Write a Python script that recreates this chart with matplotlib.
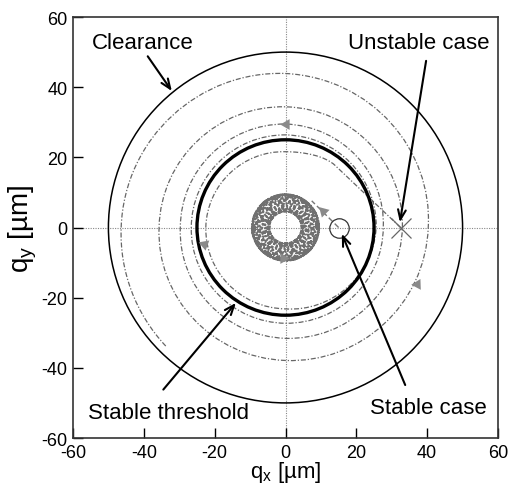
import numpy as np
import matplotlib
matplotlib.use("Agg")
import matplotlib.pyplot as plt
from matplotlib.path import Path
from matplotlib.patches import PathPatch, Circle

plt.rcParams['font.family'] = ['Liberation Sans', 'DejaVu Sans']
plt.rcParams['mathtext.fontset'] = 'custom'
plt.rcParams['mathtext.rm'] = 'Liberation Sans'
plt.rcParams['mathtext.it'] = 'Liberation Sans'
plt.rcParams['axes.unicode_minus'] = False

# circles [um]
clearance_r = 50.0
threshold_r = 25.0

# unstable case: start at (32.5, 0), spirals outward (angle in deg, radius in um)
unstable_start = (32.5, 0.0)
unstable_lead = (14.0, 17.7)
unstable_angle = [90, 180, 270, 360, 450, 540, 630, 720, 810, 900,
                  990, 1080, 1170, 1260, 1350, 1440, 1530, 1620, 1665]
unstable_radius = [21.6, 22.5, 23.2, 25.6, 26.4, 26.6, 27.3, 27.6, 29.5, 29.7,
                   31.6, 33.0, 34.4, 35.7, 37.9, 40.3, 43.9, 46.4, 47.8]

# stable case: start at (15, 0), goes into a whirl ring
stable_start = (15.0, 0.0)
stable_entry = (7.4, 7.6)
ring_r = 7.0
ring_a = 2.5
ring_k = 12.3
ring_turns = 4

# flow direction arrows (x, y, heading deg)
arrow_x = [0.0, -23.0, 37.0, 10.7, -0.6]
arrow_y = [29.5, -4.7, -16.0, 4.8, -8.8]
arrow_dir = [180, 280, 62, 135, 0]

# labels: text, text pos, arrow tail, arrow head
labels = ["Clearance", "Unstable case", "Stable threshold", "Stable case"]
label_xy = [(-40.4, 52.8), (37.6, 52.8), (-32.9, -52.6), (40.3, -51.4)]
tail_xy = [(-38.9, 48.8), (39.7, 47.5), (-34.5, -46.2), (33.8, -44.9)]
head_xy = [(-32.1, 38.9), (32.3, 1.5), (-14.0, -21.5), (15.9, -1.8)]


def spiral_verts(angles, radii, start, lead):
    verts = [start, lead]
    codes = [Path.MOVETO, Path.LINETO]
    # lead-in curve to first point (top)
    a0 = np.radians(angles[0])
    p3 = np.array([radii[0] * np.cos(a0), radii[0] * np.sin(a0)])
    lx, ly = lead
    d = np.array([lx - start[0], ly - start[1]])
    d = d / np.hypot(*d)
    verts += [tuple(np.array(lead) + 4.0 * d), tuple(p3 + np.array([5.0, 0.0])), tuple(p3)]
    codes += [Path.CURVE4] * 3
    for i in range(len(angles) - 1):
        t0, t1 = np.radians(angles[i]), np.radians(angles[i + 1])
        r0, r1 = radii[i], radii[i + 1]
        dt = t1 - t0
        k = 4.0 / 3.0 * np.tan(dt / 4.0)
        dr = (r1 - r0) / dt
        R0 = np.array([np.cos(t0), np.sin(t0)])
        T0 = np.array([-np.sin(t0), np.cos(t0)])
        R1 = np.array([np.cos(t1), np.sin(t1)])
        T1 = np.array([-np.sin(t1), np.cos(t1)])
        p0 = r0 * R0
        p3 = r1 * R1
        p1 = p0 + k * (r0 * T0 + dr * R0)
        p2 = p3 - k * (r1 * T1 + dr * R1)
        verts += [tuple(p1), tuple(p2), tuple(p3)]
        codes += [Path.CURVE4] * 3
    return Path(verts, codes)


fig = plt.figure(figsize=(5.11, 4.85), dpi=100)
ax = fig.add_axes([73 / 511, 46 / 485, 425 / 511, 421 / 485])

ax.axhline(0, color='#888888', lw=0.8, ls=(0, (1, 1.2)), zorder=1)
ax.axvline(0, color='#888888', lw=0.8, ls=(0, (1, 1.2)), zorder=1)

ax.add_patch(Circle((0, 0), clearance_r, fill=False, ec='black', lw=1.1, zorder=3))
ax.add_patch(Circle((0, 0), threshold_r, fill=False, ec='black', lw=2.4, zorder=3))

dashdot = (0, (4, 1.5, 1, 1.5))
sp = spiral_verts(unstable_angle, unstable_radius, unstable_start, unstable_lead)
ax.add_patch(PathPatch(sp, fill=False, ec='#666666', lw=0.9, ls=dashdot, zorder=2))

# stable trajectory
ax.plot([stable_start[0], stable_entry[0]], [stable_start[1], stable_entry[1]],
        color='#777777', lw=1.0, ls=(0, (4, 2)), zorder=2)
t = np.linspace(np.pi / 4, np.pi / 4 + 2 * np.pi * ring_turns, 9000)
rx = ring_r * np.cos(t) + ring_a * np.cos(ring_k * t)
ry = ring_r * np.sin(t) + ring_a * np.sin(ring_k * t)
ax.plot(rx, ry, color='#707070', lw=1.3, ls=(0, (2.5, 0.8)), zorder=2)

for x, y, a in zip(arrow_x, arrow_y, arrow_dir):
    ax.plot(x, y, marker=(3, 0, a - 90), ms=9, color='#8a8a8a', mec='none', zorder=4)

ax.plot(*unstable_start, marker='x', ms=15, mew=0.9, color='#666666', zorder=4)
ax.plot(*stable_start, marker='o', ms=14, mfc='none', mec='#333333', mew=0.9, zorder=4)

for txt, pos, tail, head in zip(labels, label_xy, tail_xy, head_xy):
    ax.text(pos[0], pos[1], txt, fontsize=16, ha='center', va='center', zorder=5)
    ax.annotate('', xy=head, xytext=tail,
                arrowprops=dict(arrowstyle='->,head_length=0.7,head_width=0.28',
                                color='black', lw=1.5, shrinkA=0, shrinkB=0), zorder=5)

ax.set_xlim(-60, 60)
ax.set_ylim(-60, 60)
ax.set_xticks(np.arange(-60, 61, 20))
ax.set_yticks(np.arange(-60, 61, 20))
ax.tick_params(direction='in', length=7, width=1, labelsize=13, top=False, right=False,
               pad=4)
for s in ax.spines.values():
    s.set_linewidth(1.2)
    s.set_color('#333333')

ax.set_xlabel(r'q$_\mathrm{x}$ [µm]', fontsize=16, labelpad=-1)
ax.set_ylabel(r'q$_\mathrm{y}$ [µm]', fontsize=20, labelpad=2)

fig.savefig('out.png', dpi=100)
